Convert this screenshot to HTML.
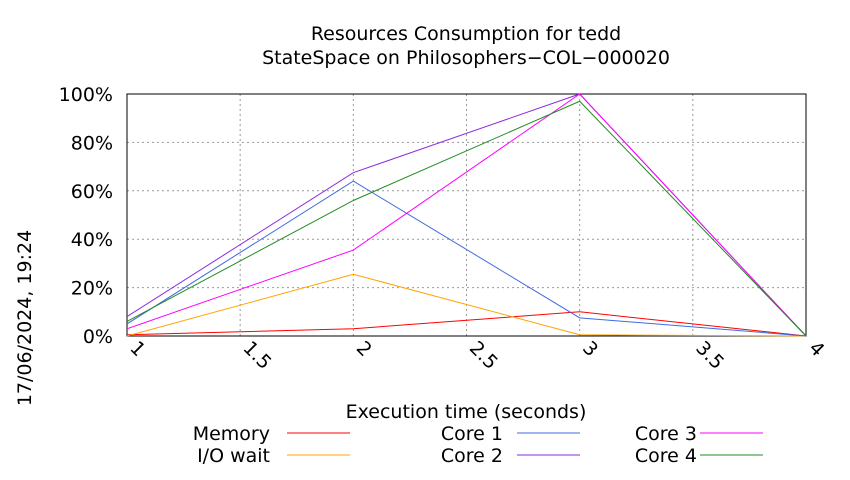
<!DOCTYPE html>
<html><head><meta charset="utf-8"><style>body{margin:0;background:#fff}svg text{font-family:"DejaVu Sans","Liberation Sans",sans-serif}</style></head><body>
<svg width="850" height="475" xmlns="http://www.w3.org/2000/svg">
<g id="grid"></g>
<g id="ax"></g>
<g id="series"></g>
<g id="legend"></g>
<text x="466" y="40" font-size="19" text-anchor="middle">Resources Consumption for tedd</text>
<text x="466" y="64" font-size="19" text-anchor="middle">StateSpace on Philosophers−COL−000020</text>
<text x="466" y="418" font-size="19" text-anchor="middle">Execution time (seconds)</text>
<text transform="translate(31,318) rotate(-90)" font-size="19" text-anchor="middle">17/06/2024, 19:24</text>
</svg>
<script>
const xVals=[1,2,3,4];
const memory=[0.5,3,10,0];
const ioWait=[0,25.5,0.5,0];
const core1=[5,64,7.5,0];
const core2=[8,67.5,100,0];
const core3=[3,35.5,100,0];
const core4=[6,56,97,0];
const xTicks=["1","1.5","2","2.5","3","3.5","4"];
const xTickVals=[1,1.5,2,2.5,3,3.5,4];
const yTicks=[0,20,40,60,80,100];
const X0=127,X1=806,Y0=336,Y1=94;
const sx=v=>X0+(v-1)/3*(X1-X0);
const sy=v=>Y0-v/100*(Y0-Y1);
const NS="http://www.w3.org/2000/svg";
function mk(t,a,p){const e=document.createElementNS(NS,t);for(const k in a)e.setAttribute(k,a[k]);p.appendChild(e);return e;}
const grid=document.getElementById('grid'),ax=document.getElementById('ax'),ser=document.getElementById('series'),leg=document.getElementById('legend');
yTicks.forEach(v=>{
 const g=mk('line',{x1:X0,x2:X1,y1:sy(v),y2:sy(v),stroke:'#999','stroke-dasharray':'2,3','stroke-width':1},grid);
 
 
 const t=mk('text',{x:X0-14,y:sy(v)+7,'font-size':19,'text-anchor':'end'},ax);t.textContent=v+'%';
 
 
});
xTickVals.forEach((v,i)=>{
 const g=mk('line',{x1:sx(v),x2:sx(v),y1:Y0,y2:Y1,stroke:'#999','stroke-dasharray':'2,3','stroke-width':1},grid);
 
 
 const t=mk('text',{transform:`translate(${sx(v)+2},${Y0+13}) rotate(45)`,'font-size':19},ax);t.textContent=xTicks[i];
 
 
});
const fr=mk('rect',{x:X0,y:Y1,width:X1-X0,height:Y0-Y1,fill:'none',stroke:'#000','stroke-width':1},ax);


const S=[["Memory",memory,"#ff0000",270,287,433],["I/O wait",ioWait,"#ffa500",270,287,455],["Core 1",core1,"#4169e1",503,517,433],["Core 2",core2,"#8a2be2",503,517,455],["Core 3",core3,"#ff00ff",697,700,433],["Core 4",core4,"#228b22",697,700,455]];
S.forEach(([n,d,c,tx,lx,y])=>{
 const p=mk('polyline',{points:d.map((v,i)=>sx(xVals[i])+','+sy(v)).join(' '),fill:'none',stroke:c,'stroke-width':1},ser);
 
 
 const t=mk('text',{x:tx,y:y+7,'font-size':19,'text-anchor':'end'},leg);t.textContent=n;
 
 
 const l=mk('line',{x1:lx,x2:lx+63,y1:y,y2:y,stroke:c,'stroke-width':1},leg);
 
 
});
</script>
</body></html>
